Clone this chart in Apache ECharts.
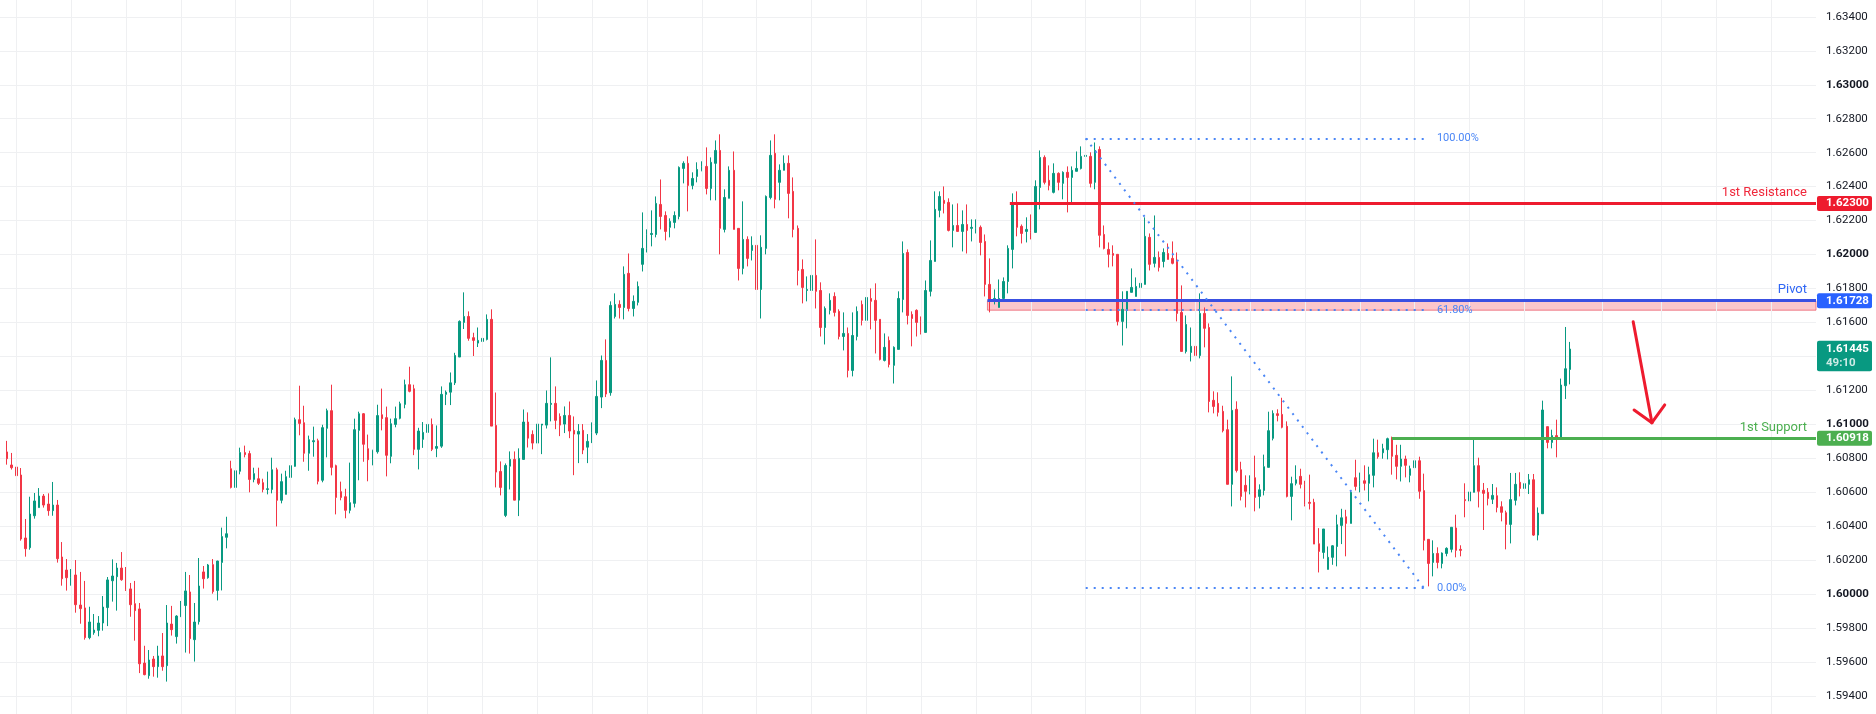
<!DOCTYPE html>
<html><head><meta charset="utf-8">
<script src="https://cdn.jsdelivr.net/npm/echarts/dist/echarts.min.js"></script>
<style>html,body{margin:0;padding:0;background:#fff}#c{width:1876px;height:714px}</style>
</head><body><div id="c"></div>
<script>
const opens = [
1.60837,1.60760,1.60748,1.60701,1.60330,1.60273,1.60461,1.60509,1.60577,1.60530,
1.60491,1.60524,1.60218,1.60141,1.60096,1.60112,1.59935,1.59918,1.59743,1.59772,
1.59786,1.59829,1.59920,1.60078,1.60102,1.60153,1.60094,1.60030,1.59943,1.59912,
1.59593,1.59519,1.59617,1.59572,1.59635,1.59578,1.59823,1.59749,1.59866,1.59932,
1.60012,1.59731,1.59837,1.60130,1.60096,1.60173,1.60021,1.60186,1.60334,1.60738,
1.60628,1.60723,1.60833,1.60827,1.60675,1.60679,1.60656,1.60616,1.60616,1.60732,
1.60552,1.60587,1.60687,1.60752,1.61027,1.61009,1.60829,1.60897,1.60903,1.60670,
1.60976,1.61080,1.60756,1.60603,1.60573,1.60493,1.60534,1.60964,1.61062,1.60856,
1.60791,1.60838,1.61056,1.61039,1.60811,1.60999,1.61035,1.61117,1.61233,1.61209,
1.60852,1.60911,1.60952,1.60999,1.60858,1.60871,1.61176,1.61189,1.61244,1.61396,
1.61600,1.61635,1.61510,1.61478,1.61488,1.61500,1.61618,1.60993,1.60722,1.60463,
1.60753,1.60793,1.60553,1.60793,1.61013,1.60940,1.60889,1.60995,1.60995,1.61117,
1.61123,1.61046,1.61001,1.61052,1.60964,1.60942,1.60964,1.60865,1.60895,1.60948,
1.61160,1.61376,1.61186,1.61635,1.61706,1.61688,1.61889,1.61682,1.61718,1.61942,
1.62036,1.62118,1.62118,1.62295,1.62230,1.62160,1.62189,1.62224,1.62507,1.62537,
1.62407,1.62460,1.62496,1.62519,1.62389,1.62537,1.62613,1.62148,1.62331,1.62496,
1.62154,1.61918,1.62089,1.62024,1.62054,1.61794,1.62036,1.62336,1.62596,1.62425,
1.62496,1.62537,1.62372,1.62154,1.61912,1.61788,1.61788,1.61877,1.61788,1.61570,
1.61671,1.61753,1.61665,1.61517,1.61535,1.61317,1.61517,1.61706,1.61612,1.61741,
1.61730,1.61618,1.61376,1.61494,1.61347,1.61441,1.61735,1.62012,1.61647,1.61671,
1.61606,1.61541,1.61783,1.61959,1.62260,1.62319,1.62307,1.62142,1.62171,1.62136,
1.62177,1.62154,1.62154,1.62160,1.62077,1.61824,1.61724,1.61688,1.61741,1.61841,
1.62030,1.62307,1.62166,1.62136,1.62142,1.62130,1.62395,1.62572,1.62437,1.62366,
1.62478,1.62419,1.62484,1.62454,1.62490,1.62507,1.62578,1.62578,1.62425,1.62619,
1.62118,1.62030,1.62006,1.62001,1.61606,1.61671,1.61777,1.61753,1.61806,1.61824,
1.62101,1.61948,1.61983,1.61959,1.62006,1.61977,1.61959,1.61659,1.61429,1.61423,
1.61459,1.61405,1.61653,1.61570,1.61141,1.61123,1.61076,1.60968,1.60646,1.61088,
1.60732,1.60640,1.60605,1.60685,1.60575,1.60610,1.60746,1.60917,1.61062,1.61058,
1.60988,1.60575,1.60652,1.60693,1.60646,1.60540,1.60540,1.60296,1.60245,1.60145,
1.60216,1.60280,1.60404,1.60455,1.60416,1.60685,1.60634,1.60667,1.60652,1.60699,
1.60832,1.60832,1.60850,1.60921,1.60817,1.60752,1.60795,1.60699,1.60744,1.60785,
1.60609,1.60322,1.60186,1.60239,1.60180,1.60239,1.60263,1.60389,1.60263,1.60556,
1.60548,1.60599,1.60756,1.60611,1.60599,1.60558,1.60579,1.60514,1.60479,1.60410,
1.60552,1.60658,1.60622,1.60646,1.60673,1.60347,1.60473,1.60986,1.60893,1.60933,
1.60923,1.61227,1.61323];
const closes = [
1.60797,1.60744,1.60697,1.60324,1.60267,1.60471,1.60548,1.60577,1.60524,1.60491,
1.60524,1.60208,1.60090,1.60096,1.60112,1.59937,1.59914,1.59743,1.59835,1.59788,
1.59829,1.59923,1.60083,1.60106,1.60153,1.60084,1.60025,1.59937,1.59902,1.59589,
1.59525,1.59611,1.59572,1.59635,1.59572,1.59829,1.59790,1.59870,1.59935,1.60018,
1.59737,1.59835,1.60047,1.60090,1.60171,1.60014,1.60194,1.60338,1.60355,1.60628,
1.60726,1.60833,1.60821,1.60675,1.60709,1.60652,1.60616,1.60620,1.60732,1.60552,
1.60662,1.60691,1.60756,1.61027,1.61005,1.60829,1.60909,1.60903,1.60664,1.60980,
1.61080,1.60746,1.60569,1.60569,1.60493,1.60538,1.60968,1.61062,1.60882,1.60791,
1.60844,1.61051,1.61033,1.60817,1.61003,1.61033,1.61121,1.61233,1.61194,1.60852,
1.60960,1.60952,1.60999,1.60852,1.60869,1.61176,1.61189,1.61244,1.61405,1.61606,
1.61635,1.61506,1.61494,1.61494,1.61506,1.61618,1.60989,1.60718,1.60628,1.60757,
1.60793,1.60553,1.60799,1.61013,1.60918,1.60889,1.61001,1.61001,1.61123,1.61123,
1.61023,1.60995,1.61052,1.60960,1.60942,1.60958,1.60848,1.60899,1.60952,1.61164,
1.61376,1.61178,1.61700,1.61706,1.61688,1.61883,1.61682,1.61724,1.61812,1.62036,
1.62118,1.62124,1.62301,1.62224,1.62136,1.62195,1.62230,1.62513,1.62537,1.62407,
1.62448,1.62501,1.62519,1.62389,1.62543,1.62613,1.62154,1.62336,1.62496,1.62148,
1.61918,1.62089,1.61977,1.62054,1.61794,1.62042,1.62342,1.62584,1.62325,1.62496,
1.62537,1.62360,1.62148,1.61906,1.61806,1.61794,1.61877,1.61783,1.61570,1.61682,
1.61730,1.61659,1.61517,1.61535,1.61317,1.61523,1.61665,1.61612,1.61747,1.61724,
1.61612,1.61382,1.61453,1.61352,1.61453,1.61741,1.62006,1.61641,1.61623,1.61600,
1.61541,1.61788,1.61965,1.62266,1.62342,1.62301,1.62142,1.62171,1.62136,1.62177,
1.62142,1.62160,1.62160,1.62071,1.61824,1.61724,1.61741,1.61741,1.61841,1.62036,
1.62307,1.62160,1.62124,1.62148,1.62130,1.62401,1.62572,1.62425,1.62407,1.62478,
1.62425,1.62484,1.62454,1.62496,1.62507,1.62578,1.62584,1.62419,1.62613,1.62113,
1.62036,1.62001,1.61995,1.61606,1.61677,1.61783,1.61806,1.61812,1.61830,1.62107,
1.61942,1.61983,1.61924,1.62012,1.61971,1.61948,1.61653,1.61429,1.61588,1.61459,
1.61405,1.61653,1.61565,1.61134,1.61105,1.61070,1.60962,1.60646,1.61082,1.60728,
1.60575,1.60605,1.60681,1.60569,1.60614,1.60750,1.60962,1.61064,1.61052,1.60982,
1.60575,1.60650,1.60673,1.60646,1.60528,1.60534,1.60294,1.60251,1.60383,1.60216,
1.60284,1.60408,1.60449,1.60416,1.60599,1.60634,1.60667,1.60652,1.60703,1.60832,
1.60809,1.60856,1.60915,1.60811,1.60752,1.60795,1.60758,1.60738,1.60785,1.60605,
1.60316,1.60180,1.60239,1.60186,1.60241,1.60269,1.60393,1.60257,1.60257,1.60550,
1.60601,1.60756,1.60605,1.60593,1.60563,1.60581,1.60510,1.60481,1.60410,1.60556,
1.60646,1.60622,1.60650,1.60673,1.60347,1.60477,1.61084,1.60893,1.60933,1.60917,
1.61231,1.61327,1.61443];
const lows = [
1.60762,1.60733,1.60632,1.60314,1.60220,1.60261,1.60444,1.60509,1.60509,1.60461,
1.60461,1.60185,1.60049,1.60020,1.60049,1.59890,1.59825,1.59731,1.59733,1.59760,
1.59751,1.59784,1.59811,1.59955,1.59902,1.60078,1.60018,1.59866,1.59725,1.59534,
1.59521,1.59501,1.59513,1.59507,1.59548,1.59484,1.59755,1.59708,1.59865,1.59655,
1.59649,1.59602,1.59820,1.60032,1.60090,1.60002,1.59962,1.60021,1.60269,1.60622,
1.60599,1.60705,1.60805,1.60599,1.60658,1.60642,1.60599,1.60587,1.60593,1.60398,
1.60534,1.60587,1.60679,1.60750,1.60935,1.60779,1.60726,1.60809,1.60646,1.60658,
1.60805,1.60699,1.60469,1.60552,1.60446,1.60475,1.60510,1.60670,1.60779,1.60664,
1.60758,1.60827,1.60964,1.60693,1.60770,1.60982,1.61029,1.61094,1.61188,1.60818,
1.60734,1.60861,1.60920,1.60842,1.60806,1.60861,1.61113,1.61113,1.61231,1.61396,
1.61561,1.61492,1.61402,1.61455,1.61455,1.61494,1.60989,1.60628,1.60581,1.60453,
1.60616,1.60553,1.60459,1.60793,1.60863,1.60852,1.60881,1.60824,1.60975,1.61017,
1.60971,1.60930,1.60948,1.60918,1.60700,1.60771,1.60824,1.60771,1.60889,1.60936,
1.61095,1.61160,1.61168,1.61623,1.61623,1.61618,1.61665,1.61635,1.61700,1.61900,
1.62012,1.62048,1.62101,1.62148,1.62083,1.62101,1.62154,1.62207,1.62419,1.62254,
1.62384,1.62425,1.62490,1.62354,1.62319,1.62319,1.62001,1.62130,1.62331,1.62148,
1.61847,1.61883,1.61930,1.61965,1.61783,1.61623,1.62001,1.62325,1.62272,1.62319,
1.62496,1.62213,1.62101,1.61818,1.61712,1.61724,1.61783,1.61682,1.61517,1.61470,
1.61647,1.61635,1.61500,1.61435,1.61276,1.61282,1.61494,1.61582,1.61612,1.61559,
1.61417,1.61376,1.61370,1.61335,1.61240,1.61441,1.61659,1.61588,1.61459,1.61517,
1.61529,1.61541,1.61753,1.61959,1.62219,1.62242,1.62136,1.62042,1.62136,1.62018,
1.62006,1.62077,1.62124,1.61995,1.61753,1.61659,1.61706,1.61688,1.61735,1.61771,
1.61918,1.62107,1.62065,1.62071,1.62089,1.62130,1.62266,1.62413,1.62378,1.62360,
1.62378,1.62325,1.62248,1.62307,1.62490,1.62501,1.62572,1.62395,1.62384,1.62042,
1.62030,1.61924,1.61930,1.61582,1.61464,1.61565,1.61777,1.61753,1.61788,1.61824,
1.61906,1.61924,1.61900,1.61924,1.61971,1.61942,1.61606,1.61429,1.61417,1.61370,
1.61370,1.61388,1.61453,1.61070,1.61064,1.61046,1.60952,1.60646,1.60516,1.60716,
1.60551,1.60510,1.60587,1.60487,1.60504,1.60581,1.60746,1.60905,1.61017,1.60976,
1.60569,1.60434,1.60640,1.60622,1.60516,1.60498,1.60294,1.60127,1.60208,1.60145,
1.60172,1.60163,1.60294,1.60222,1.60416,1.60610,1.60599,1.60610,1.60546,1.60628,
1.60797,1.60797,1.60793,1.60703,1.60675,1.60663,1.60687,1.60658,1.60664,1.60561,
1.60257,1.60045,1.60104,1.60151,1.60151,1.60222,1.60245,1.60216,1.60222,1.60452,
1.60542,1.60599,1.60510,1.60377,1.60522,1.60530,1.60481,1.60428,1.60263,1.60298,
1.60522,1.60575,1.60575,1.60589,1.60342,1.60316,1.60473,1.60858,1.60858,1.60805,
1.60923,1.61149,1.61235];
const highs = [
1.60902,1.60831,1.60760,1.60742,1.60442,1.60573,1.60595,1.60624,1.60589,1.60593,
1.60660,1.60554,1.60306,1.60206,1.60147,1.60200,1.60130,1.60077,1.59925,1.59882,
1.59870,1.59988,1.60100,1.60204,1.60183,1.60247,1.60159,1.60065,1.60077,1.59947,
1.59695,1.59670,1.59635,1.59695,1.59770,1.59935,1.59930,1.59875,1.59959,1.60130,
1.60112,1.59947,1.60212,1.60165,1.60177,1.60206,1.60196,1.60391,1.60455,1.60785,
1.60756,1.60862,1.60874,1.60844,1.60744,1.60744,1.60679,1.60721,1.60803,1.60744,
1.60709,1.60726,1.60779,1.61039,1.61227,1.61109,1.60933,1.60986,1.60915,1.60997,
1.61092,1.61233,1.60762,1.60662,1.60620,1.60774,1.61033,1.61074,1.61066,1.60939,
1.60850,1.61115,1.61210,1.61104,1.61033,1.61104,1.61133,1.61263,1.61339,1.61233,
1.60979,1.61013,1.61023,1.61034,1.60993,1.61223,1.61199,1.61305,1.61421,1.61612,
1.61777,1.61665,1.61539,1.61570,1.61547,1.61647,1.61677,1.61187,1.60781,1.60769,
1.60840,1.60840,1.60858,1.61087,1.61070,1.60964,1.61017,1.61001,1.61199,1.61394,
1.61223,1.61064,1.61105,1.61134,1.61046,1.61001,1.61001,1.60942,1.61011,1.61258,
1.61405,1.61500,1.61724,1.61771,1.61730,1.61930,1.62006,1.61759,1.61841,1.62248,
1.62148,1.62260,1.62342,1.62442,1.62254,1.62213,1.62254,1.62519,1.62549,1.62578,
1.62484,1.62543,1.62549,1.62631,1.62572,1.62672,1.62708,1.62384,1.62519,1.62607,
1.62154,1.62313,1.62107,1.62107,1.62107,1.62113,1.62348,1.62672,1.62708,1.62531,
1.62584,1.62584,1.62454,1.62171,1.61971,1.61871,1.61912,1.62089,1.61836,1.61694,
1.61771,1.61777,1.61677,1.61659,1.61570,1.61659,1.61694,1.61729,1.61794,1.61800,
1.61830,1.61618,1.61535,1.61517,1.61459,1.61783,1.62077,1.62030,1.61665,1.61677,
1.61635,1.61847,1.62083,1.62372,1.62372,1.62401,1.62331,1.62295,1.62301,1.62260,
1.62295,1.62207,1.62207,1.62171,1.62118,1.61977,1.61794,1.61853,1.61865,1.62054,
1.62360,1.62372,1.62177,1.62219,1.62236,1.62437,1.62613,1.62584,1.62525,1.62537,
1.62484,1.62490,1.62519,1.62519,1.62607,1.62637,1.62684,1.62602,1.62660,1.62637,
1.62171,1.62071,1.62054,1.62001,1.61783,1.61783,1.61918,1.61865,1.61871,1.62219,
1.62124,1.62230,1.62018,1.62036,1.62065,1.62077,1.62012,1.61818,1.61641,1.61570,
1.61464,1.61771,1.61688,1.61594,1.61194,1.61188,1.61109,1.61027,1.61282,1.61135,
1.60779,1.60699,1.60699,1.60815,1.60646,1.60821,1.61074,1.61082,1.61088,1.61156,
1.61017,1.60691,1.60758,1.60738,1.60667,1.60703,1.60561,1.60388,1.60383,1.60280,
1.60288,1.60467,1.60502,1.60496,1.60610,1.60791,1.60715,1.60758,1.60750,1.60915,
1.60909,1.60885,1.60921,1.60927,1.60879,1.60879,1.60815,1.60756,1.60791,1.60809,
1.60709,1.60322,1.60316,1.60275,1.60245,1.60275,1.60393,1.60467,1.60287,1.60652,
1.60630,1.60923,1.60803,1.60654,1.60624,1.60648,1.60628,1.60546,1.60491,1.60713,
1.60713,1.60717,1.60697,1.60707,1.60707,1.60510,1.61139,1.60986,1.60968,1.61027,
1.61269,1.61573,1.61485];

// time grid (candle index of each vertical grid line)
const timeGrid = [2,14,26,38,50,62,80,92,104,116,128,140,152,164,176,188,200,212,224,236,248,260,272,284,296,308,320,332,349,362,374,386];

// levels
const resistance = 1.62300, resistanceFrom = 219.4;
const pivot = 1.61728, pivotFrom = 214.5;
const support = 1.60918, supportFrom = 303;
const lastPrice = 1.61445, countdown = '49:10';
// fibonacci retracement
const fibHigh = 1.62684, fibLow = 1.60035, fibFrom = 236, fibTo = 310;
const fibRatios = [1, 0.618, 0];
const fibLabels = ['100.00%', '61.80%', '0.00%'];
// arrow (index, price)
const arrowTail = [355.8, 1.61604], arrowTip = [359.9, 1.61009];
const arrowWingA = [356.0, 1.61084], arrowWingB = [362.7, 1.61114];

const xMin = -1.567, xMax = 395.8;
const FONT = 'Roboto';
const GREEN = '#089981', RED = '#F23645';
const LRED = '#ee1b2e', LBLUE = '#3a50e2', LGREEN = '#4caf50', FIB = '#4a86f6';

const candles = opens.map((o, i) => [i, o, closes[i], lows[i], highs[i]]);
const fibLevel = r => fibLow + (fibHigh - fibLow) * r;

const fibDots = {color: FIB, width: 2, type: [2, 6]};
const marks = [];
marks.push([{yAxis: lastPrice, lineStyle: {color: GREEN, width: 1, type: [1, 4]}, label: {show: false}}, {yAxis: lastPrice}]);
function levelLine(from, v, color, text, textColor) {
  marks.push([{coord: [from, v], lineStyle: {color, width: 3, type: 'solid'},
    label: {show: true, position: 'insideEndTop', formatter: text, color: textColor, fontSize: 13, fontFamily: FONT, distance: [9, 4]}},
    {coord: [xMax, v]}]);
}
levelLine(resistanceFrom, resistance, LRED, '1st Resistance', '#f0283b');
levelLine(pivotFrom, pivot, LBLUE, 'Pivot', '#2f66f5');
levelLine(supportFrom, support, LGREEN, '1st Support', '#4caf50');
fibRatios.forEach((r, i) => {
  const v = fibLevel(r);
  marks.push([{coord: [fibFrom, v], lineStyle: fibDots,
    label: {show: true, position: 'end', formatter: fibLabels[i], color: FIB, fontSize: 11, fontFamily: FONT, distance: [13, 0]}},
    {coord: [fibTo, v]}]);
});
marks.push([{coord: [fibFrom, fibHigh], lineStyle: fibDots, label: {show: false}}, {coord: [fibTo, fibLow]}]);
const arrowStyle = {color: LRED, width: 3, type: 'solid', cap: 'round'};
marks.push([{coord: arrowTail, lineStyle: arrowStyle, label: {show: false}}, {coord: arrowTip}]);
marks.push([{coord: arrowWingA, lineStyle: arrowStyle, label: {show: false}}, {coord: arrowTip}]);
marks.push([{coord: arrowWingB, lineStyle: arrowStyle, label: {show: false}}, {coord: arrowTip}]);

const chart = echarts.init(document.getElementById('c'));
const option = {
  animation: false,
  backgroundColor: '#ffffff',
  grid: {left: 0, right: 60, top: -17.1, bottom: -15.8, containLabel: false, outerBoundsMode: 'none'},
  xAxis: {type: 'value', min: xMin, max: xMax, show: false},
  yAxis: {
    type: 'value', position: 'right', min: 1.592, max: 1.636, interval: 0.002, scale: true,
    axisLine: {show: false}, axisTick: {show: false},
    splitLine: {show: true, lineStyle: {color: '#eff0f2', width: 1}},
    axisLabel: {
      margin: 10, color: '#131722', fontSize: 11.5, fontFamily: FONT, showMinLabel: false, showMaxLabel: false,
      formatter: v => { const s = v.toFixed(5); return (Math.round(v * 1000) % 10 === 0) ? '{b|' + s + '}' : s; },
      rich: {b: {fontWeight: 'bold', color: '#131722', fontSize: 11.5, fontFamily: FONT}}
    }
  },
  series: [
    {type: 'line', data: [], z: 1, silent: true,
      markLine: {silent: true, symbol: ['none', 'none'], animation: false, label: {show: false},
        lineStyle: {color: '#eff0f2', width: 1, type: 'solid'},
        data: timeGrid.map(k => ({xAxis: k}))}},
    {type: 'candlestick', data: candles, z: 2, barWidth: 2, silent: true,
      itemStyle: {color: GREEN, color0: RED, borderColor: GREEN, borderColor0: RED, borderWidth: 1}},
    {type: 'line', data: [], z: 5, silent: true,
      markArea: {silent: true, data: [[{coord: [pivotFrom, fibLevel(0.618)], itemStyle: {color: 'rgba(242,54,69,0.28)', borderColor: 'rgba(235,80,95,0.7)', borderWidth: 1}}, {coord: [xMax, pivot]}]]},
      markLine: {silent: true, symbol: ['none', 'none'], animation: false, data: marks}}
  ]
};
chart.setOption(option);

const ax = chart.convertToPixel({xAxisIndex: 0}, xMax);
const py = v => chart.convertToPixel({yAxisIndex: 0}, v);
const g = [];
function badge(v, text, color) {
  const y = py(v);
  g.push({type: 'rect', z: 100, shape: {x: ax + 1, y: y - 7.5, width: 55, height: 15, r: 2}, style: {fill: color}});
  g.push({type: 'text', z: 101, style: {text, x: ax + 10, y, fill: '#fff', fontSize: 11.5, fontWeight: 'bold', fontFamily: FONT, align: 'left', verticalAlign: 'middle'}});
}
badge(resistance, resistance.toFixed(5), LRED);
badge(pivot, pivot.toFixed(5), '#2962ff');
badge(support, support.toFixed(5), LGREEN);
{
  const y = py(lastPrice);
  g.push({type: 'rect', z: 100, shape: {x: ax + 1, y: y - 8, width: 55, height: 30.5, r: 2}, style: {fill: GREEN}});
  g.push({type: 'text', z: 101, style: {text: lastPrice.toFixed(5), x: ax + 10, y, fill: '#fff', fontSize: 11.5, fontWeight: 'bold', fontFamily: FONT, align: 'left', verticalAlign: 'middle'}});
  g.push({type: 'text', z: 101, style: {text: countdown, x: ax + 10, y: y + 14, fill: 'rgba(255,255,255,0.8)', fontSize: 11.5, fontWeight: 'bold', fontFamily: FONT, align: 'left', verticalAlign: 'middle'}});
}
chart.setOption({graphic: g});
</script>
</body></html>
